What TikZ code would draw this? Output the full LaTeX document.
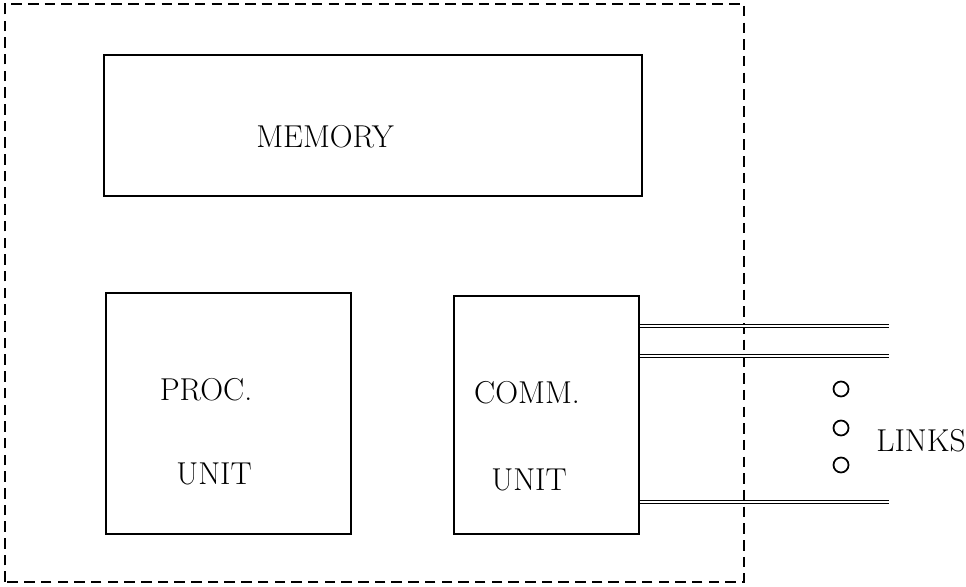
\documentclass[tikz,border=0pt]{standalone}
\usepackage{tikz}
\usetikzlibrary{positioning, calc}

\begin{document}
\begin{tikzpicture}[
    % Node styles
    unit/.style={rectangle, draw=black, line width=1pt, inner sep=0pt},
    caption/.style={font=\fontsize{18}{21}\selectfont, inner sep=0pt},
    frame/.style={draw=black, line width=1pt, dash pattern=on 6pt off 3.5pt},
    link/.style={draw=black, line width=1pt, double, double distance=0.8pt},
    dot/.style={circle, draw=black, line width=1pt, minimum size=0.3cm, inner sep=0pt},
]
\useasboundingbox (0,0) rectangle (19.32,11.72);

% === Node boundary (dashed) ===
\draw[frame] (0.1,0.08) rectangle (14.88,11.64);

% === Units ===
\node[unit, minimum width=10.76cm, minimum height=2.82cm] (memory) at (7.46, 9.21) {};
\node[unit, minimum width=4.9cm, minimum height=4.82cm] (proc) at (4.57, 3.45) {};
\node[unit, minimum width=3.7cm, minimum height=4.76cm] (comm) at (10.93, 3.42) {};

% Unit captions
\node[caption] (memtxt) at (6.5, 8.98) {MEMORY};
\node[caption] (proctxt) at (4.12, 3.92) {PROC.};
\node[caption] (procunit) at (4.28, 2.24) {UNIT};
\node[caption] (commtxt) at (10.54, 3.86) {COMM.};
\node[caption] (communit) at (10.58, 2.12) {UNIT};

% === Links leaving the comm. unit ===
\coordinate (linkA) at (17.78, 5.2);
\coordinate (linkB) at (17.78, 4.6);
\coordinate (linkC) at (17.78, 1.68);
\draw[link] (comm.east |- linkA) -- (linkA);
\draw[link] (comm.east |- linkB) -- (linkB);
\draw[link] (comm.east |- linkC) -- (linkC);

% Ellipsis between the links
\node[dot] (dotA) at (16.82, 3.94) {};
\node[dot] (dotB) at (16.82, 3.16) {};
\node[dot] (dotC) at (16.82, 2.42) {};
\node[caption] (links) at (18.42, 2.9) {LINKS};

\end{tikzpicture}
\end{document}
